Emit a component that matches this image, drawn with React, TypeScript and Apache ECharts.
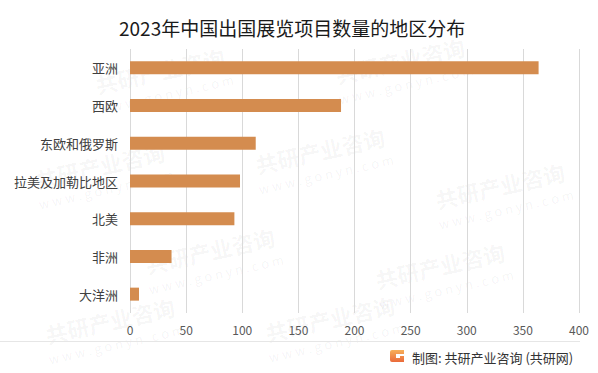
import React, { useEffect, useRef } from "react";
import * as echarts from "echarts";

const categories = ["亚洲", "西欧", "东欧和俄罗斯", "拉美及加勒比地区", "北美", "非洲", "大洋洲"];
const values = [364, 188, 112, 98, 93, 37, 8];
const titleText = "2023年中国出国展览项目数量的地区分布";
const sourceText = "制图: 共研产业咨询 (共研网)";
const watermarkMain = "共研产业咨询";
const watermarkSub = "w w w . g o n y n . c o m";
const watermarkSpots = [
  [160, 70], [400, 60], [100, 165], [320, 150], [500, 185],
  [210, 250], [440, 265], [110, 320], [330, 318],
];

const FONT = "'Noto Sans CJK SC', 'Noto Sans', sans-serif";

export default function App() {
  const ref = useRef<HTMLDivElement>(null);
  useEffect(() => {
    if (!ref.current) return;
    const chart = echarts.init(ref.current, undefined, { renderer: "svg" });
    echarts.graphic.registerShape(
      "gylogo",
      echarts.graphic.extendPath(
        "M2 0 H14 V4 H6 V8 H10 V6 H14 V12 H2 Q0 12 0 10 V2 Q0 0 2 0 Z",
        {}
      )
    );
    const wm: any[] = [];
    watermarkSpots.forEach(([x, y]) => {
      wm.push({
        type: "text",
        x,
        y,
        rotation: 0.22,
        silent: true,
        z: 0,
        style: {
          text: watermarkMain,
          fontSize: 22,
          fontWeight: "bold",
          fontFamily: FONT,
          fill: "rgba(0,0,0,0.045)",
          align: "center",
          verticalAlign: "middle",
        },
      });
      wm.push({
        type: "text",
        x: x + 6,
        y: y + 24,
        rotation: 0.22,
        silent: true,
        z: 0,
        style: {
          text: watermarkSub,
          fontSize: 13,
          fontFamily: FONT,
          fill: "rgba(0,0,0,0.05)",
          align: "center",
          verticalAlign: "middle",
        },
      });
    });
    chart.setOption({
      animation: false,
      backgroundColor: "#ffffff",
      title: {
        text: titleText,
        left: 114,
        top: 13,
        textStyle: {
          fontSize: 19,
          fontWeight: "normal",
          color: "#1a1a1a",
          fontFamily: FONT,
        },
      },
      grid: { left: 130, right: 19, top: 49, bottom: 60, containLabel: false },
      xAxis: {
        type: "value",
        min: 0,
        max: 400,
        interval: 50,
        axisLine: { show: false },
        axisTick: { show: false },
        splitLine: { lineStyle: { color: "#d9d9d9", width: 1 } },
        axisLabel: { color: "#595959", fontSize: 12, margin: 10, fontFamily: FONT },
      },
      yAxis: {
        type: "category",
        inverse: true,
        data: categories,
        axisLine: { show: false },
        axisTick: { show: false },
        axisLabel: { color: "#404040", fontSize: 13, margin: 12, fontFamily: FONT },
      },
      series: [
        {
          type: "bar",
          data: values,
          barWidth: 13,
          itemStyle: { color: "#D48C4F" },
          z: 3,
        },
      ],
      graphic: [
        ...wm,
        {
          type: "line",
          shape: { x1: 0, y1: 341.5, x2: 580, y2: 341.5 },
          style: { stroke: "#e6e6e6", lineWidth: 1 },
          silent: true,
        },
        {
          type: "gylogo",
          x: 390,
          y: 350,
          scaleX: 1,
          scaleY: 1,
          style: {
            fill: new echarts.graphic.LinearGradient(0, 0, 0, 1, [
              { offset: 0, color: "#f7b05a" },
              { offset: 1, color: "#ea6a3a" },
            ]),
          },
        },
        {
          type: "text",
          x: 412,
          y: 357,
          style: {
            text: sourceText,
            fontSize: 13,
            fontFamily: FONT,
            fill: "#333333",
            align: "left",
            verticalAlign: "middle",
          },
        },
      ],
    });
    return () => chart.dispose();
  }, []);
  return (
    <div
      ref={ref}
      style={{ position: "fixed", left: 0, top: 0, width: 598, height: 373 }}
    />
  );
}
